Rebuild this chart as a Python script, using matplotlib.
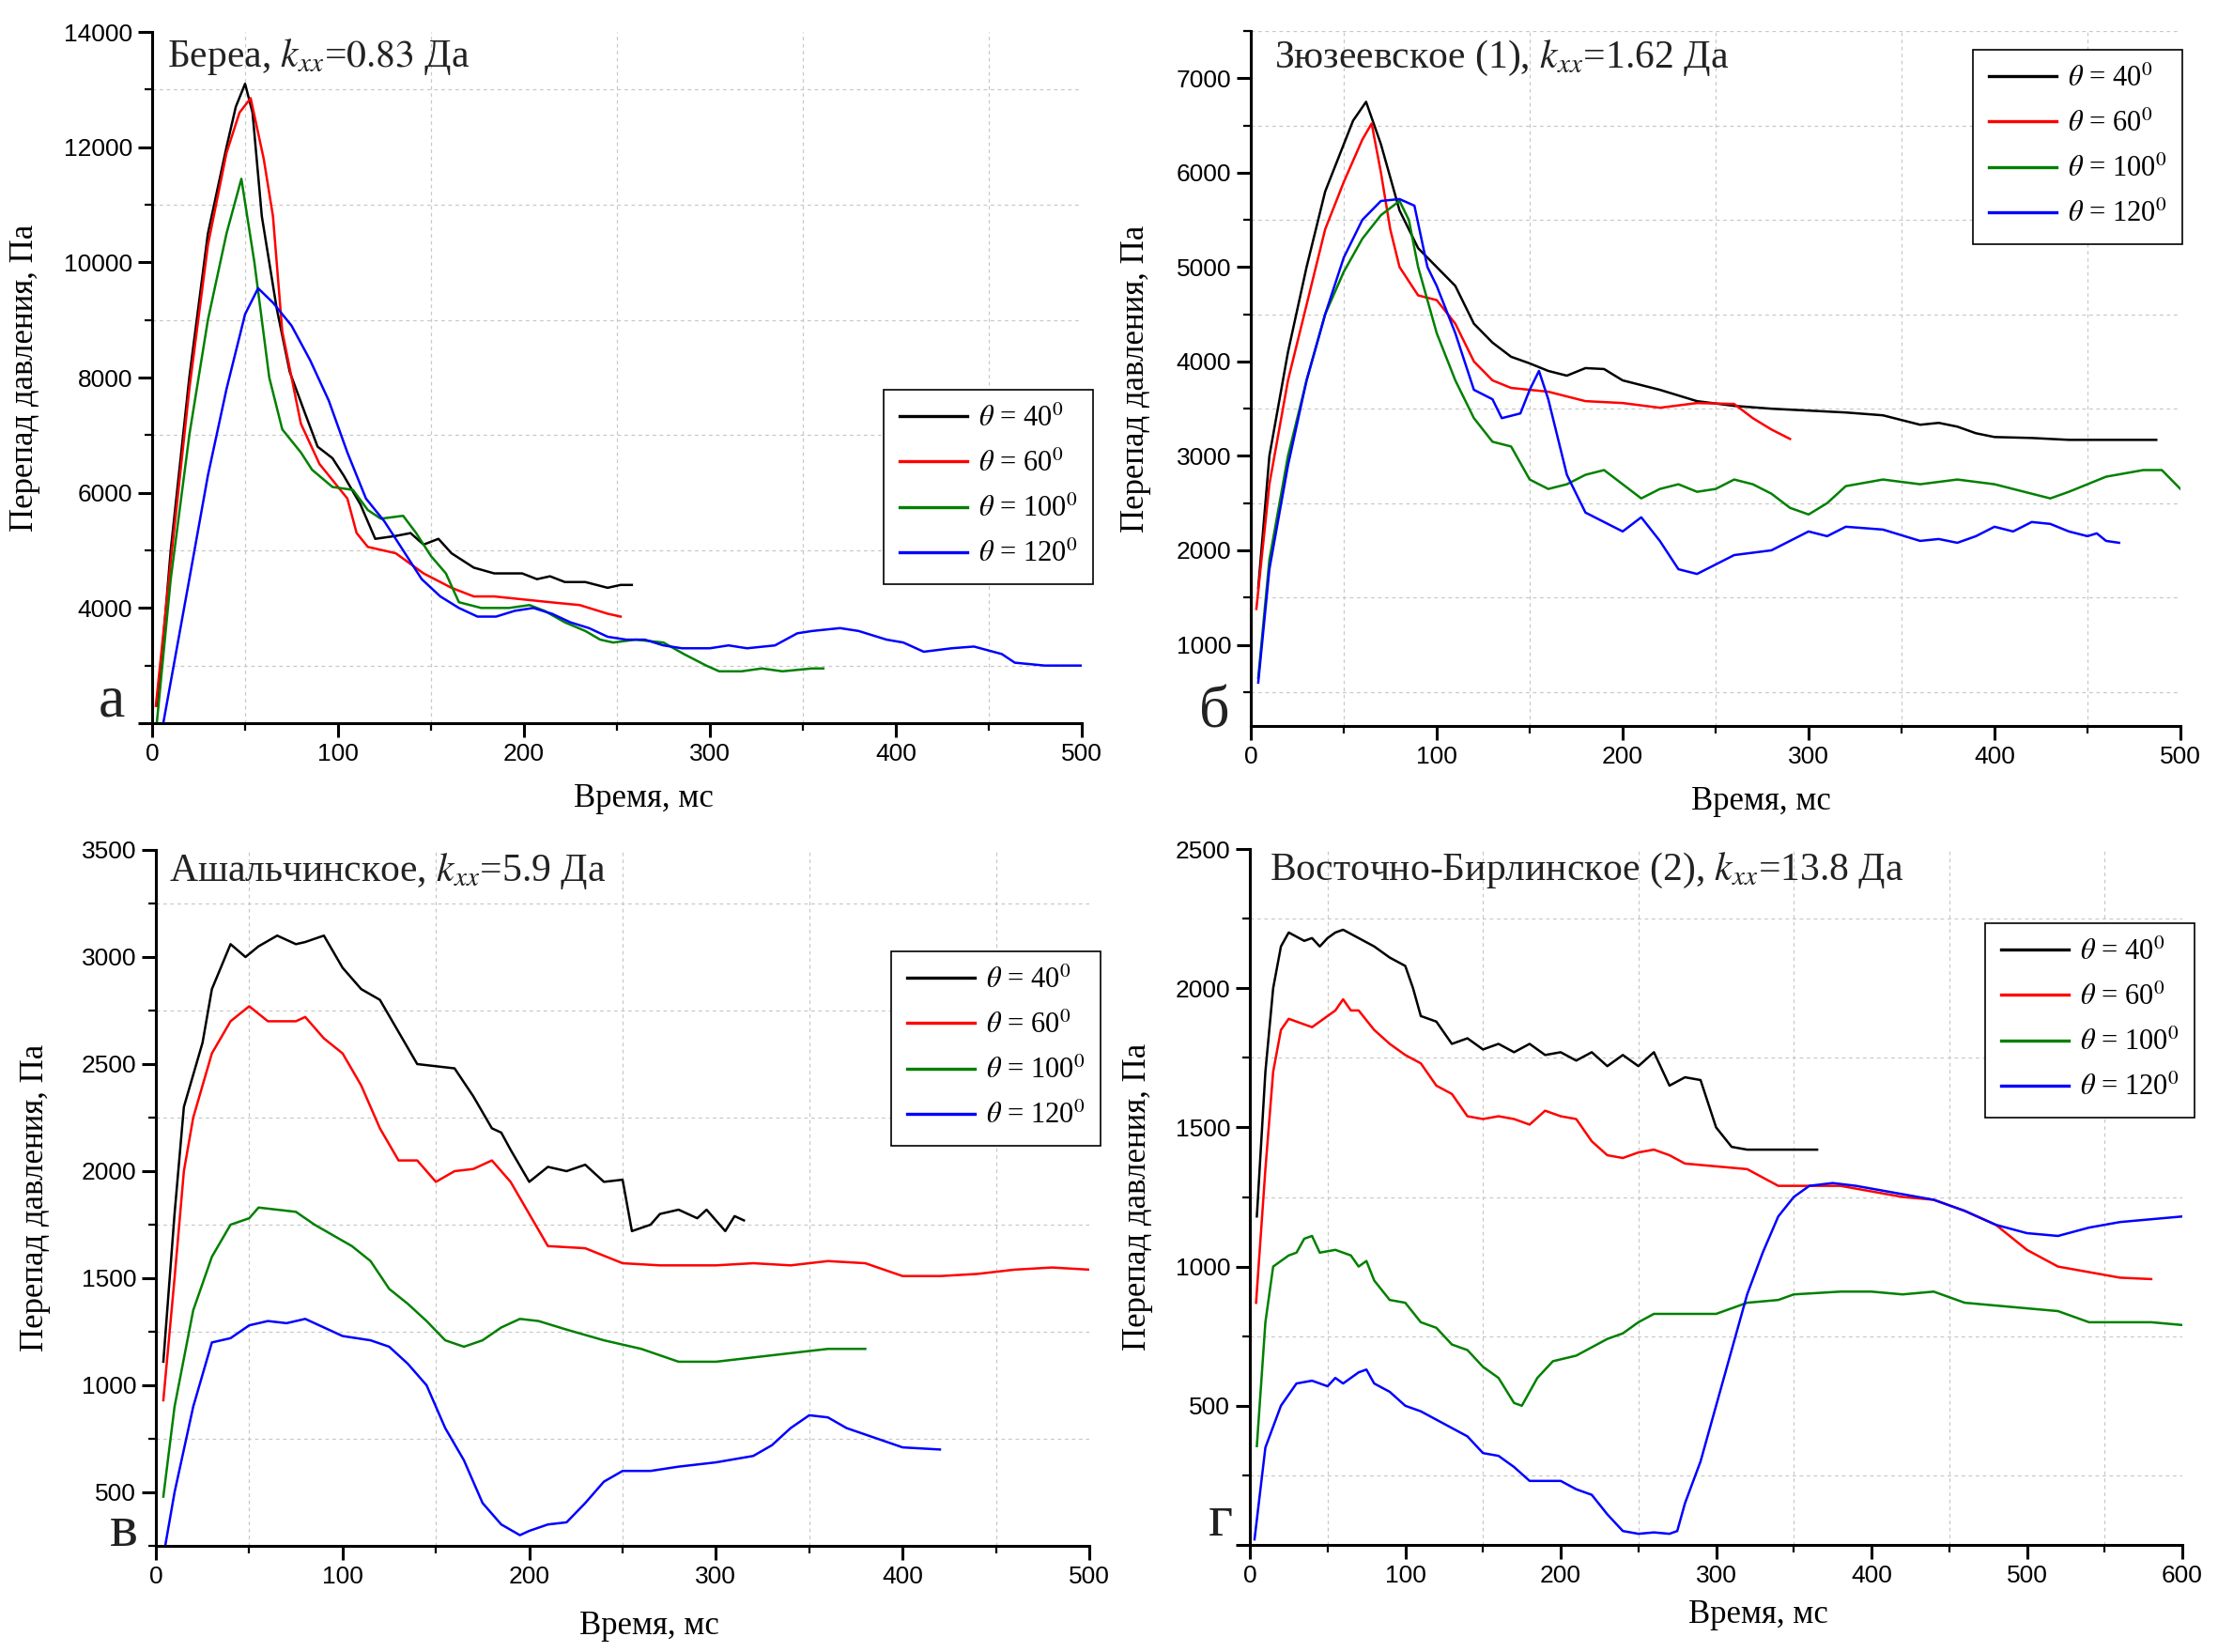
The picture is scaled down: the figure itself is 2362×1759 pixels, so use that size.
import matplotlib
matplotlib.use('Agg')
import matplotlib.pyplot as plt
from matplotlib.ticker import MultipleLocator

plt.rcParams['font.family'] = ['Liberation Serif', 'DejaVu Serif']
plt.rcParams['mathtext.fontset'] = 'stix'

# ---- panel a: Береа ----
a_black_t = [3, 10, 20, 30, 40, 45, 50, 54, 59, 67, 74, 82, 89, 97, 103, 112, 120, 131, 139, 146, 154, 161, 173, 184, 199, 207, 214, 222, 233, 245, 252, 258]
a_black_p = [2300, 5000, 8000, 10500, 12000, 12700, 13100, 12600, 10800, 9200, 8100, 7400, 6800, 6600, 6300, 5800, 5200, 5250, 5300, 5100, 5200, 4950, 4700, 4600, 4600, 4500, 4550, 4450, 4450, 4350, 4400, 4400]
a_red_t = [2, 10, 20, 30, 40, 47, 53, 60, 65, 70, 80, 90, 100, 105, 110, 116, 131, 146, 161, 173, 184, 199, 214, 230, 245, 252]
a_red_p = [2300, 4800, 7800, 10300, 11900, 12600, 12850, 11800, 10800, 8800, 7200, 6500, 6100, 5900, 5300, 5060, 4950, 4600, 4350, 4200, 4200, 4150, 4100, 4050, 3900, 3850]
a_green_t = [2.5, 10, 20, 30, 40, 48, 55, 63, 70, 80, 86, 97, 108, 116, 123, 135, 142, 150, 158, 165, 177, 192, 203, 211, 222, 233, 241, 248, 260, 275, 286, 298, 305, 317, 328, 339, 355, 361]
a_green_p = [2000, 4500, 7000, 9000, 10500, 11450, 10000, 8000, 7100, 6700, 6400, 6100, 6050, 5700, 5550, 5600, 5300, 4900, 4600, 4100, 4000, 4000, 4050, 3950, 3750, 3600, 3450, 3400, 3450, 3400, 3200, 3000, 2900, 2900, 2950, 2900, 2950, 2950]
a_blue_t = [6, 20, 30, 40, 50, 57, 65, 75, 85, 95, 105, 115, 125, 135, 145, 155, 165, 175, 185, 195, 205, 215, 225, 235, 245, 255, 265, 275, 285, 300, 310, 320, 335, 347, 355, 370, 380, 395, 404, 415, 430, 442, 457, 464, 480, 500]
a_blue_p = [2000, 4500, 6300, 7800, 9100, 9550, 9300, 8900, 8300, 7600, 6700, 5900, 5500, 5000, 4500, 4200, 4000, 3850, 3850, 3950, 4000, 3900, 3750, 3650, 3500, 3450, 3450, 3350, 3300, 3300, 3350, 3300, 3350, 3560, 3600, 3650, 3600, 3450, 3400, 3240, 3300, 3330, 3200, 3050, 3000, 3000]

# ---- panel б: Зюзеевское (1) ----
b_black_t = [4, 10, 20, 30, 40, 50, 55, 62, 70, 75, 80, 90, 100, 110, 120, 130, 140, 150, 160, 170, 180, 190, 200, 220, 240, 260, 280, 300, 320, 340, 360, 370, 380, 390, 400, 420, 440, 460, 487]
b_black_p = [1600, 3000, 4100, 5000, 5800, 6300, 6550, 6750, 6300, 5950, 5600, 5200, 5000, 4800, 4400, 4200, 4050, 3980, 3900, 3850, 3930, 3920, 3800, 3700, 3580, 3530, 3500, 3480, 3460, 3430, 3330, 3350, 3310, 3240, 3200, 3190, 3170, 3170, 3170]
b_red_t = [3, 10, 20, 30, 40, 50, 60, 65, 70, 75, 80, 90, 100, 110, 120, 130, 140, 160, 180, 200, 220, 240, 260, 270, 280, 290]
b_red_p = [1380, 2700, 3800, 4600, 5400, 5900, 6350, 6520, 6000, 5400, 5000, 4700, 4650, 4400, 4000, 3800, 3720, 3680, 3580, 3560, 3510, 3560, 3550, 3400, 3280, 3180]
b_green_t = [4, 10, 20, 30, 40, 50, 60, 70, 80, 85, 90, 100, 110, 120, 130, 140, 150, 160, 170, 180, 190, 200, 210, 220, 230, 240, 250, 260, 270, 280, 290, 300, 310, 320, 340, 360, 380, 400, 420, 430, 440, 460, 480, 490, 500]
b_green_p = [650, 1900, 3000, 3800, 4500, 4950, 5300, 5550, 5700, 5500, 5000, 4300, 3800, 3400, 3150, 3100, 2750, 2650, 2700, 2800, 2850, 2700, 2550, 2650, 2700, 2620, 2650, 2750, 2700, 2600, 2450, 2380, 2500, 2680, 2750, 2700, 2750, 2700, 2600, 2550, 2620, 2780, 2850, 2850, 2650]
b_blue_t = [4, 10, 20, 30, 40, 50, 60, 70, 80, 88, 95, 100, 110, 120, 130, 135, 145, 150, 155, 160, 170, 180, 190, 200, 210, 220, 230, 240, 250, 260, 280, 300, 310, 320, 340, 360, 370, 380, 390, 400, 410, 420, 430, 440, 450, 455, 460, 467]
b_blue_p = [600, 1800, 2900, 3800, 4500, 5100, 5500, 5700, 5720, 5650, 5000, 4800, 4300, 3700, 3600, 3400, 3450, 3700, 3900, 3600, 2800, 2400, 2300, 2200, 2350, 2100, 1800, 1750, 1850, 1950, 2000, 2200, 2150, 2250, 2220, 2100, 2120, 2080, 2150, 2250, 2200, 2300, 2280, 2200, 2150, 2180, 2100, 2080]

# ---- panel в: Ашальчинское ----
c_black_t = [4, 10, 15, 20, 25, 30, 40, 48, 55, 65, 75, 80, 90, 100, 110, 120, 130, 140, 150, 160, 170, 180, 185, 190, 200, 210, 220, 230, 240, 250, 255, 265, 270, 280, 290, 295, 305, 310, 315]
c_black_p = [1110, 1800, 2300, 2450, 2600, 2850, 3060, 3000, 3050, 3100, 3060, 3070, 3100, 2950, 2850, 2800, 2650, 2500, 2490, 2480, 2350, 2200, 2180, 2100, 1950, 2020, 2000, 2030, 1950, 1960, 1720, 1750, 1800, 1820, 1780, 1820, 1720, 1790, 1770]
c_red_t = [4, 10, 15, 20, 30, 40, 50, 60, 75, 80, 90, 100, 110, 120, 130, 140, 150, 160, 170, 180, 190, 200, 210, 230, 250, 270, 300, 320, 340, 360, 380, 400, 420, 440, 460, 480, 500]
c_red_p = [930, 1500, 2000, 2250, 2550, 2700, 2770, 2700, 2700, 2720, 2620, 2550, 2400, 2200, 2050, 2050, 1950, 2000, 2010, 2050, 1950, 1800, 1650, 1640, 1570, 1560, 1560, 1570, 1560, 1580, 1570, 1510, 1510, 1520, 1540, 1550, 1540]
c_green_t = [4, 10, 20, 30, 40, 50, 55, 65, 75, 85, 95, 105, 115, 125, 135, 145, 155, 165, 175, 185, 195, 205, 220, 240, 260, 280, 300, 320, 340, 360, 380]
c_green_p = [480, 900, 1350, 1600, 1750, 1780, 1830, 1820, 1810, 1750, 1700, 1650, 1580, 1450, 1380, 1300, 1210, 1180, 1210, 1270, 1310, 1300, 1260, 1210, 1170, 1110, 1110, 1130, 1150, 1170, 1170]
c_blue_t = [5, 10, 20, 30, 40, 50, 60, 70, 80, 90, 100, 115, 125, 135, 145, 155, 165, 175, 185, 195, 200, 210, 220, 230, 240, 250, 265, 280, 300, 320, 330, 340, 350, 360, 370, 380, 390, 400, 420]
c_blue_p = [250, 500, 900, 1200, 1220, 1280, 1300, 1290, 1310, 1270, 1230, 1210, 1180, 1100, 1000, 800, 650, 450, 350, 300, 320, 350, 360, 450, 550, 600, 600, 620, 640, 670, 720, 800, 860, 850, 800, 770, 740, 710, 700]

# ---- panel г: Восточно-Бирлинское (2) ----
d_black_t = [4.5, 10, 15, 20, 25, 35, 40, 45, 50, 55, 60, 70, 80, 90, 100, 105, 110, 120, 130, 140, 150, 160, 170, 180, 190, 200, 210, 220, 230, 240, 250, 260, 270, 280, 290, 300, 310, 320, 340, 365]
d_black_p = [1180, 1700, 2000, 2150, 2200, 2170, 2180, 2150, 2180, 2200, 2210, 2180, 2150, 2110, 2080, 2000, 1900, 1880, 1800, 1820, 1780, 1800, 1770, 1800, 1760, 1770, 1740, 1770, 1720, 1760, 1720, 1770, 1650, 1680, 1670, 1500, 1430, 1420, 1420, 1420]
d_red_t = [4, 10, 15, 20, 25, 30, 40, 50, 55, 60, 65, 70, 80, 90, 100, 110, 120, 130, 140, 150, 160, 170, 180, 190, 200, 210, 220, 230, 240, 250, 260, 270, 280, 300, 320, 340, 360, 380, 400, 420, 440, 460, 480, 500, 520, 540, 560, 580]
d_red_p = [870, 1350, 1700, 1850, 1890, 1880, 1860, 1900, 1920, 1960, 1920, 1920, 1850, 1800, 1760, 1730, 1650, 1620, 1540, 1530, 1540, 1530, 1510, 1560, 1540, 1530, 1450, 1400, 1390, 1410, 1420, 1400, 1370, 1360, 1350, 1290, 1290, 1290, 1270, 1250, 1240, 1200, 1150, 1060, 1000, 980, 960, 955]
d_green_t = [4.5, 10, 15, 20, 25, 30, 35, 40, 45, 55, 65, 70, 75, 80, 90, 100, 110, 120, 130, 140, 150, 160, 170, 175, 185, 195, 210, 220, 230, 240, 250, 260, 280, 300, 310, 320, 340, 350, 380, 400, 420, 440, 460, 480, 500, 520, 540, 560, 580, 600]
d_green_p = [355, 800, 1000, 1020, 1040, 1050, 1100, 1110, 1050, 1060, 1040, 1000, 1020, 950, 880, 870, 800, 780, 720, 700, 640, 600, 510, 500, 600, 660, 680, 710, 740, 760, 800, 830, 830, 830, 850, 870, 880, 900, 910, 910, 900, 910, 870, 860, 850, 840, 800, 800, 800, 790]
d_blue_t = [3, 10, 20, 30, 40, 50, 55, 60, 70, 75, 80, 90, 100, 110, 120, 130, 140, 150, 160, 170, 180, 190, 200, 210, 220, 230, 240, 250, 260, 270, 275, 280, 290, 300, 310, 320, 330, 340, 350, 360, 375, 390, 400, 420, 440, 460, 480, 500, 520, 540, 560, 580, 600]
d_blue_p = [20, 350, 500, 580, 590, 570, 600, 580, 620, 630, 580, 550, 500, 480, 450, 420, 390, 330, 320, 280, 230, 230, 230, 200, 180, 110, 50, 40, 45, 40, 50, 150, 300, 500, 700, 900, 1050, 1180, 1250, 1290, 1300, 1290, 1280, 1260, 1240, 1200, 1150, 1120, 1110, 1140, 1160, 1170, 1180]

labels = [r'$\theta$ = 40$^0$', r'$\theta$ = 60$^0$', r'$\theta$ = 100$^0$', r'$\theta$ = 120$^0$']
colors = ['black', '#ff0000', '#008000', '#0000ff']

W, H = 2362, 1759
fig = plt.figure(figsize=(W / 100, H / 100), dpi=100)


def rect(l, t, r, b):
    return [l / W, 1 - b / H, (r - l) / W, (b - t) / H]


def panel(box, series, xlim, xstep, ylim, ystep, yminor, hide_first,
          title, title_xy, letter, letter_xy, leg_xy, ylab_x, xlab_xy):
    ax = fig.add_axes(rect(*box))
    for (t, p), c, lab in zip(series, colors, labels):
        ax.plot(t, p, color=c, lw=1.8, label=lab)
    ax.set_xlim(*xlim)
    ax.set_ylim(*ylim)
    ax.xaxis.set_major_locator(MultipleLocator(xstep))
    ax.xaxis.set_minor_locator(MultipleLocator(xstep / 2))
    ax.yaxis.set_major_locator(MultipleLocator(ystep))
    ax.yaxis.set_minor_locator(MultipleLocator(yminor))
    ax.spines['top'].set_visible(False)
    ax.spines['right'].set_visible(False)
    for s in ['left', 'bottom']:
        ax.spines[s].set_linewidth(2.2)
    ax.tick_params(which='major', direction='out', length=11, width=2.2,
                   labelsize=19, pad=4, labelfontfamily='Liberation Sans')
    ax.tick_params(which='minor', direction='out', length=6, width=1.6)
    ax.grid(which='minor', color='#c8c8c8', lw=0.9, ls=(0, (3, 3)))
    if hide_first:
        ax.yaxis.set_major_formatter(
            plt.FuncFormatter(lambda v, pos: '' if abs(v - ylim[0]) < 1 else '%d' % v))
    fig.text(title_xy[0] / W, 1 - title_xy[1] / H, title, fontsize=30,
             ha='left', va='baseline', color='#222222')
    fig.text(letter_xy[0] / W, 1 - letter_xy[1] / H, letter, fontsize=46,
             ha='center', va='baseline', color='#222222')
    fig.text(ylab_x / W, 1 - (box[1] + box[3]) / 2 / H, 'Перепад давления, Па',
             rotation=90, fontsize=25, ha='center', va='center')
    fig.text(xlab_xy[0] / W, 1 - xlab_xy[1] / H, 'Время, мс',
             fontsize=25, ha='center', va='center')
    leg = ax.legend(loc='upper left', bbox_to_anchor=(leg_xy[0] / W, 1 - leg_xy[1] / H),
                    bbox_transform=fig.transFigure, fontsize=22, fancybox=False,
                    edgecolor='black', framealpha=1, handlelength=2.35,
                    handletextpad=0.4, labelspacing=0.62, borderpad=0.55,
                    borderaxespad=0)
    leg.get_frame().set_linewidth(1.2)
    for h in leg.get_lines():
        h.set_linewidth(2.4)
    return ax


panel((162, 34, 1152, 770),
      [(a_black_t, a_black_p), (a_red_t, a_red_p), (a_green_t, a_green_p), (a_blue_t, a_blue_p)],
      (0, 500), 100, (2000, 14000), 2000, 1000, True,
      r'Береа, $k_{xx}$=$\mathit{0.83}$ Да', (178, 71),
      'а', (119, 763), (941, 415), 27, (685, 851))

panel((1332, 33, 2322, 773),
      [(b_black_t, b_black_p), (b_red_t, b_red_p), (b_green_t, b_green_p), (b_blue_t, b_blue_p)],
      (0, 500), 100, (140, 7500), 1000, 500, False,
      r'Зюзеевское (1), $k_{xx}$=1.62 Да', (1357, 72),
      'б', (1293, 775), (2101, 53), 1209, (1875, 854))

panel((166, 905, 1160, 1646),
      [(c_black_t, c_black_p), (c_red_t, c_red_p), (c_green_t, c_green_p), (c_blue_t, c_blue_p)],
      (0, 500), 100, (250, 3500), 500, 250, False,
      r'Ашальчинское, $k_{xx}$=5.9 Да', (180, 938),
      'в', (132, 1646), (949, 1013), 38, (691, 1732))

panel((1331, 904, 2324, 1645),
      [(d_black_t, d_black_p), (d_red_t, d_red_p), (d_green_t, d_green_p), (d_blue_t, d_blue_p)],
      (0, 600), 100, (0, 2500), 500, 250, True,
      r'Восточно-Бирлинское (2), $k_{xx}$=13.8 Да', (1352, 937),
      'г', (1300, 1635), (2114, 983), 1212, (1872, 1720))

fig.savefig('out.png', dpi=100)
